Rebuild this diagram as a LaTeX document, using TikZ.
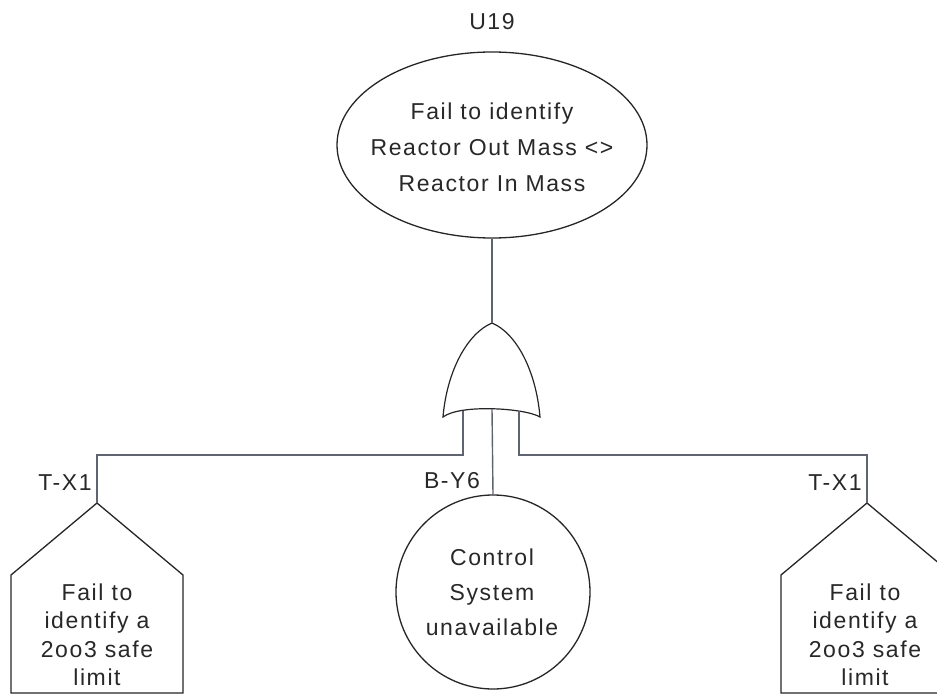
\documentclass[tikz,border=0pt]{standalone}
\usepackage{fontspec}
\setmainfont{Liberation Sans}[LetterSpace=7]
\usetikzlibrary{shapes.geometric}
\definecolor{edgec}{RGB}{95,100,112}
\definecolor{txtc}{RGB}{40,40,40}
\begin{document}
\begin{tikzpicture}[x=1pt,y=-1pt,
  lab/.style={font=\fontsize{23}{36}\selectfont, text=txtc, inner sep=0pt},
  shapeline/.style={draw=black!85, line width=1.3pt},
  conn/.style={draw=edgec, line width=1.4pt}]
\useasboundingbox (0,0) rectangle (937,695);
% top event
\node[lab] (u19) at (492,22) {U19};
\node[ellipse, shapeline, minimum width=310pt, minimum height=186pt, inner sep=0pt,
      fill=white] (top) at (492,145) {};
\node[lab, align=center, font=\fontsize{23}{36}\selectfont] (toptext) at (492,147)
  {Fail to identify\\Reactor Out Mass <>\\Reactor In Mass};
% OR gate
\coordinate (gtop) at (492,323);
\coordinate (gbl) at (443,417);
\coordinate (gbr) at (540,417);
\coordinate (gin1) at (463,411);
\coordinate (gin2) at (492,409);
\coordinate (gin3) at (519,411);
\draw[shapeline, line width=1.2pt, fill=white] (gbl) .. controls (447,370) and (468,333) .. (gtop)
  .. controls (516,333) and (536,370) .. (gbr)
  .. controls (525,408) and (460,404) .. (gbl) -- cycle;
% connector top
\draw[conn] (top.south) -- (gtop);
% left house
\coordinate (hLtop) at (97,503);
\draw[shapeline, fill=white] (hLtop) -- (183,575) -- (183,693) -- (11,693) -- (11,575) -- cycle;
\node[lab, align=center, font=\fontsize{23}{28.5}\selectfont] (hLtext) at (97,635)
  {Fail to\\identify a\\2oo3 safe\\limit};
\node[lab] (tx1l) at (65,483) {T-X1};
% right house
\coordinate (hRtop) at (867,503);
\draw[shapeline, fill=white] (hRtop) -- (953,575) -- (953,693) -- (781,693) -- (781,575) -- cycle;
\node[lab, align=center, font=\fontsize{23}{28.5}\selectfont] (hRtext) at (865,635)
  {Fail to\\identify a\\2oo3 safe\\limit};
\node[lab] (tx1r) at (835,483) {T-X1};
% basic event
\node[circle, shapeline, minimum size=194pt, inner sep=0pt] (bev) at (493,592) {};
\node[lab, align=center, font=\fontsize{23}{35}\selectfont] (bevtext) at (492,592)
  {Control\\System\\unavailable};
\node[lab] (by6) at (452,481) {B-Y6};
% connectors from gate
\draw[conn] (gin1) -- ++(0,44) -| (hLtop);
\draw[conn] (gin3) -- ++(0,44) -| (hRtop);
\draw[conn] (gin2) -- (bev.north);
\end{tikzpicture}
\end{document}
